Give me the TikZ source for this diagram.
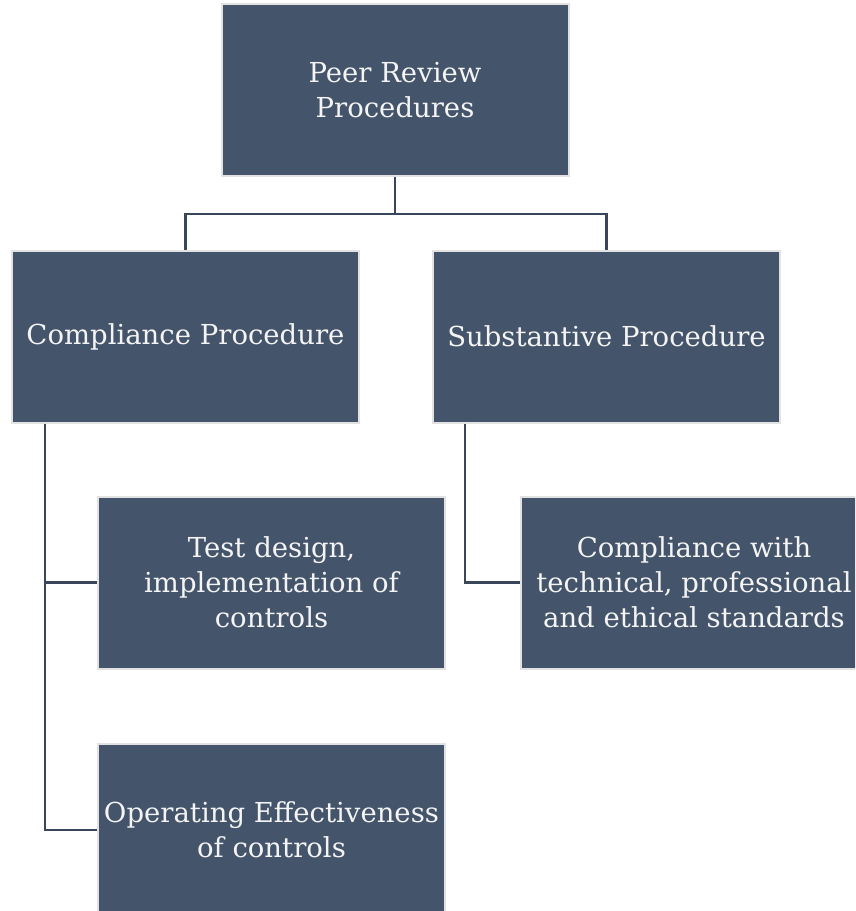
\documentclass[tikz,border=0pt]{standalone}
\usepackage{fontspec}
\setmainfont{DejaVu Serif}
\definecolor{boxfill}{HTML}{44546A}
\definecolor{boxedge}{HTML}{E2E2E2}
\definecolor{linecol}{HTML}{3A475A}
\definecolor{txt}{HTML}{F4F4F4}
\tikzset{
  box/.style={draw=boxedge, line width=2pt, fill=boxfill, text=txt,
    minimum width=347pt, minimum height=172pt, inner sep=0pt, align=center,
    font=\fontsize{27.5}{35}\selectfont},
  conn/.style={draw=linecol, line width=2.5pt}
}
\begin{document}
\begin{tikzpicture}[x=1pt,y=-1pt]
\useasboundingbox (0,0) rectangle (855,911);
\clip (0,0) rectangle (855,911);
\node[box] (top) at (395,90) {Peer Review\\Procedures};
\node[box] (comp) at (185.5,336.5) {Compliance Procedure};
\node[box] (subs) at (606.5,336.5) {Substantive Procedure};
\node[box] (test) at (271.5,582.5) {Test design,\\implementation of\\controls};
\node[box] (oper) at (271.5,830) {Operating Effectiveness\\of controls};
\node[box] (cwith) at (694,582.5) {Compliance with\\technical, professional\\and ethical standards};
\draw[conn] (top.south) -- ++(0,37) -| (comp.north);
\draw[conn] (top.south) -- ++(0,37) -| (subs.north);
\coordinate (cl) at ([xshift=34pt]comp.south west);
\coordinate (sl) at ([xshift=33pt]subs.south west);
\draw[conn] (cl) |- (test.west);
\draw[conn] (cl) |- (oper.west);
\draw[conn] (sl) |- (cwith.west);
\end{tikzpicture}
\end{document}
